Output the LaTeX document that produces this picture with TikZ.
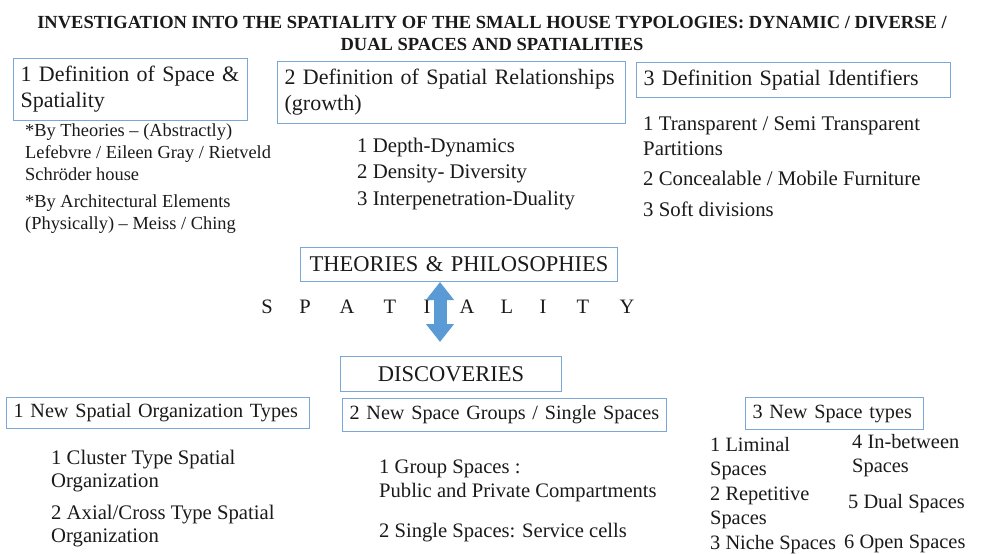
\documentclass[tikz,border=0pt]{standalone}
\usepackage{fontspec}
\setmainfont{Liberation Serif}
\usepackage{xcolor}
\definecolor{cFrame}{HTML}{7BA7D7}
\definecolor{cArrow}{HTML}{5B9BD5}
\definecolor{cText}{HTML}{1A1A1A}
\usepackage{tikz}
\usetikzlibrary{positioning,arrows.meta}
\tikzset{
  node-box/.style={draw=cFrame,line width=1.2pt,anchor=north west,inner xsep=7pt,
    inner ysep=0pt,align=left,text=cText},
  node-head/.style={font=\fontsize{22}{26}\selectfont},
  node-list/.style={anchor=base west,inner sep=0pt,align=left,text=cText},
  arrow-dual/.style={{Triangle[width=27pt,length=18pt]}-{Triangle[width=27pt,length=18pt]},
    line width=13pt,draw=cArrow},
}

\begin{document}
\begin{tikzpicture}[x=1pt,y=1pt]
  \useasboundingbox (0,0) rectangle (983,-554);
  % title
  \node[text=cText,align=center,anchor=base,inner sep=0pt,font=\bfseries\fontsize{18.5}{22}\selectfont] (title) at (492,-50)
    {INVESTIGATION INTO THE SPATIALITY OF THE SMALL HOUSE TYPOLOGIES: DYNAMIC / DIVERSE /\\DUAL SPACES AND SPATIALITIES};

  % definitions
  \node[node-box,node-head,text width=220pt,minimum height=62pt] (space) at (13,-58) {1 Definition of Space \&\\Spatiality};
  \node[node-box,node-head,text width=334pt,minimum height=62pt] (rel)   at (277,-61) {2 Definition of Spatial Relationships\\(growth)};
  \node[node-box,node-head,text width=300pt,minimum height=35pt] (ident) at (636,-62) {3 Definition Spatial Identifiers};

  \node[node-list,font=\fontsize{18.4}{21.8}\selectfont] (space-list) at (25,-229)
    {*By Theories – (Abstractly)\\Lefebvre / Eileen Gray / Rietveld\\Schröder house\\[5pt]*By Architectural Elements\\(Physically) – Meiss / Ching};
  \node[node-list,font=\fontsize{20.8}{26}\selectfont] (rel-list) at (357,-205)
    {1 Depth-Dynamics\\2 Density- Diversity\\[1pt]3 Interpenetration-Duality};
  \node[node-list,font=\fontsize{20.8}{25}\selectfont] (ident-list) at (643,-216)
    {1 Transparent / Semi Transparent\\Partitions\\[5pt]2 Concealable / Mobile Furniture\\[6pt]3 Soft divisions};

  % spatiality axis
  \node[node-box,font=\fontsize{22.5}{26}\selectfont,align=center,text width=303pt,minimum height=34pt] (theo) at (300,-247) {THEORIES \& PHILOSOPHIES};
  \foreach \ch/\cx [count=\i] in {S/267,P/305,A/347,T/390,I/427,A/467,L/507,I/543,T/583,Y/627}
    \node[text=cText,inner sep=0pt,anchor=base,font=\fontsize{20.5}{24}\selectfont] (sp-\i) at (\cx,-313) {\ch};
  \coordinate (dual-top) at (440,-282);
  \coordinate (dual-bot) at (440,-342);
  \draw[arrow-dual] (dual-top) -- (dual-bot);
  \node[node-box,font=\fontsize{22.5}{26}\selectfont,align=center,text width=207pt,minimum height=35pt] (disc) at (340,-356) {DISCOVERIES};

  % discoveries
  \node[node-box,font=\fontsize{20.2}{24}\selectfont,text width=289pt,minimum height=31pt] (org)   at (6,-397)   {1 New Spatial Organization Types};
  \node[node-box,font=\fontsize{20.2}{24}\selectfont,text width=310pt,minimum height=33pt] (group) at (342,-398) {2 New Space Groups / Single Spaces};
  \node[node-box,font=\fontsize{20.2}{24}\selectfont,text width=164pt,minimum height=32pt] (types) at (745,-397) {3 New Space types};

  \node[node-list,font=\fontsize{20.7}{22.5}\selectfont] (org-list) at (51,-542)
    {1 Cluster Type Spatial\\Organization\\[10pt]2 Axial/Cross Type Spatial\\Organization};
  \node[node-list,font=\fontsize{20.6}{24}\selectfont] (group-list) at (379,-537)
    {1 Group Spaces :\\Public and Private Compartments\\[16pt]2 Single Spaces: Service cells};
  \node[node-list,font=\fontsize{20.4}{24.5}\selectfont] (types-a) at (710,-549)
    {1 Liminal\\Spaces\\2 Repetitive\\Spaces\\3 Niche Spaces};
  \node[node-list,font=\fontsize{20.4}{24}\selectfont] (types-b) at (852,-472)
    {4 In-between\\Spaces};
  \node[node-list,font=\fontsize{20.4}{24}\selectfont] (types-c) at (848,-508) {5 Dual Spaces};
  \node[node-list,font=\fontsize{20.4}{24}\selectfont] (types-d) at (844,-548) {6 Open Spaces};
\end{tikzpicture}
\end{document}
